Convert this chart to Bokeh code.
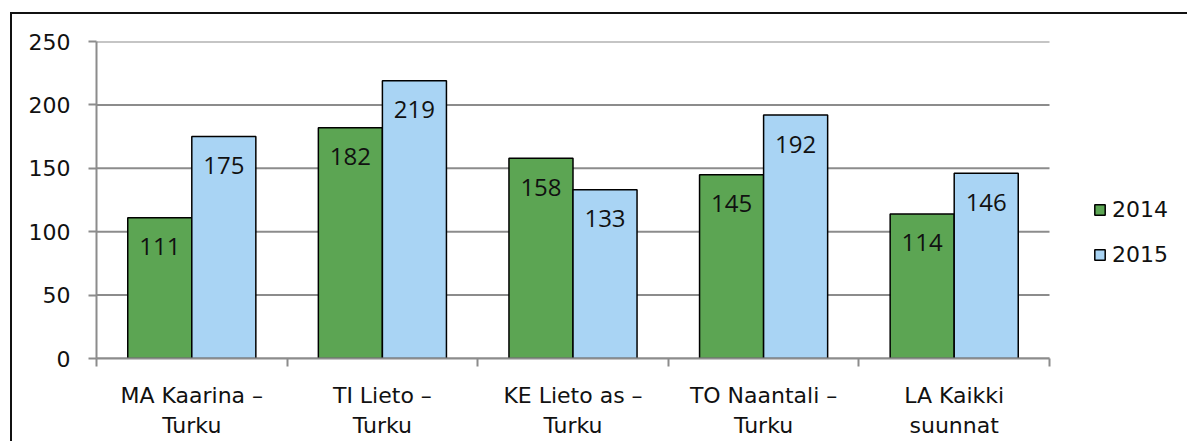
import numpy as np
from bokeh.plotting import figure
from bokeh.models import (ColumnDataSource, Range1d, FixedTicker, Legend, LegendItem,
                          LabelSet)
from bokeh.core.properties import value
from bokeh.embed import file_html
from bokeh.resources import INLINE

categories = ["MA Kaarina –\nTurku", "TI Lieto –\nTurku", "KE Lieto as –\nTurku",
              "TO Naantali –\nTurku", "LA Kaikki\nsuunnat"]
values_2014 = [111, 182, 158, 145, 114]
values_2015 = [175, 219, 133, 192, 146]
series_names = ["2014", "2015"]
y_ticks = [0, 50, 100, 150, 200, 250]

GREEN = "#5CA553"
BLUE = "#A9D4F4"
GRID = "#8C8C8C"
AXIS_FONT = "DejaVu Sans"

n = len(categories)
centers = [i + 0.5 for i in range(n)]
bw = 0.336

# layout (pixels)
FIG_X, FIG_Y = 12, 14          # after outer margin + border
FRAME_L, FRAME_T, FRAME_B = 96, 41, 358
CAT_R = 1049                   # right end of category area
FIG_W, FIG_H = 1189 - FIG_X, 443 - FIG_Y
frame_w = FIG_X + FIG_W - FRAME_L
x_end = n * frame_w / (CAT_R - FRAME_L)

src = ColumnDataSource(dict(
    x14=[c - bw / 2 for c in centers],
    x15=[c + bw / 2 for c in centers],
    v14=values_2014,
    v15=values_2015,
    t14=[str(v) for v in values_2014],
    t15=[str(v) for v in values_2015],
))

p = figure(width=FIG_W, height=FIG_H, output_backend="svg", toolbar_location=None,
           x_range=Range1d(0, x_end), y_range=Range1d(0, 250),
           min_border_left=FRAME_L - FIG_X, min_border_top=FRAME_T - FIG_Y,
           min_border_bottom=FIG_Y + FIG_H - FRAME_B, min_border_right=0)
p.styles = {"border-left": "2px solid #111", "border-top": "2px solid #111",
            "margin-left": "10px", "margin-top": "12px"}
p.outline_line_color = None
p.background_fill_color = "white"
p.border_fill_color = "white"

# horizontal gridlines only across the category area
p.segment(x0=[0] * len(y_ticks), x1=[n] * len(y_ticks), y0=y_ticks, y1=y_ticks,
          line_color=GRID, line_width=2, level="underlay")

r14 = p.vbar(x="x14", top="v14", width=bw, source=src, fill_color=GREEN,
             line_color="black", line_width=1.5)
r15 = p.vbar(x="x15", top="v15", width=bw, source=src, fill_color=BLUE,
             line_color="black", line_width=1.5)

for xcol, ycol, tcol in (("x14", "v14", "t14"), ("x15", "v15", "t15")):
    lbl = LabelSet(x=xcol, y=ycol, text=tcol, source=src, text_align="center",
                   text_baseline="middle", y_offset=-29,
                   text_font=value("Open Sans"), text_font_size="24px",
                   text_color="#111111")
    p.add_layout(lbl)

# y axis
p.yaxis.ticker = FixedTicker(ticks=y_ticks)
p.yaxis.axis_line_color = GRID
p.yaxis.axis_line_width = 2
p.yaxis.major_tick_line_color = GRID
p.yaxis.major_tick_line_width = 2
p.yaxis.major_tick_out = 8
p.yaxis.major_tick_in = 0
p.yaxis.minor_tick_line_color = None
p.yaxis.major_label_text_font = AXIS_FONT
p.yaxis.major_label_text_font_size = "22px"
p.yaxis.major_label_text_color = "#111111"
p.yaxis.major_label_standoff = 18

# x axis: labels at centers, ticks at boundaries
p.xaxis.bounds = (0, n)
p.xaxis.ticker = FixedTicker(ticks=centers, minor_ticks=list(range(n + 1)))
p.xaxis.major_label_overrides = {c: lab for c, lab in zip(centers, categories)}
p.xaxis.axis_line_color = GRID
p.xaxis.axis_line_width = 2
p.xaxis.major_tick_line_color = None
p.xaxis.major_tick_out = 0
p.xaxis.major_tick_in = 0
p.xaxis.minor_tick_line_color = GRID
p.xaxis.minor_tick_line_width = 2
p.xaxis.minor_tick_out = 8
p.xaxis.minor_tick_in = 0
p.xaxis.major_label_text_font = AXIS_FONT
p.xaxis.major_label_text_font_size = "22px"
p.xaxis.major_label_text_color = "#111111"
p.xaxis.major_label_standoff = 16

p.xgrid.grid_line_color = None
p.ygrid.grid_line_color = None

legend = Legend(items=[LegendItem(label=series_names[0], renderers=[r14]),
                       LegendItem(label=series_names[1], renderers=[r15])],
                location=(1093 - FRAME_L, 91), orientation="vertical")
legend.border_line_color = None
legend.background_fill_alpha = 0
legend.padding = 0
legend.margin = 0
legend.glyph_width = 13
legend.glyph_height = 13
legend.label_height = 26
legend.spacing = 19
legend.label_standoff = 6
legend.label_text_font = AXIS_FONT
legend.label_text_font_size = "22px"
legend.label_text_color = "#111111"
p.add_layout(legend, "center")

open("out.html", "w").write(file_html(p, INLINE))
